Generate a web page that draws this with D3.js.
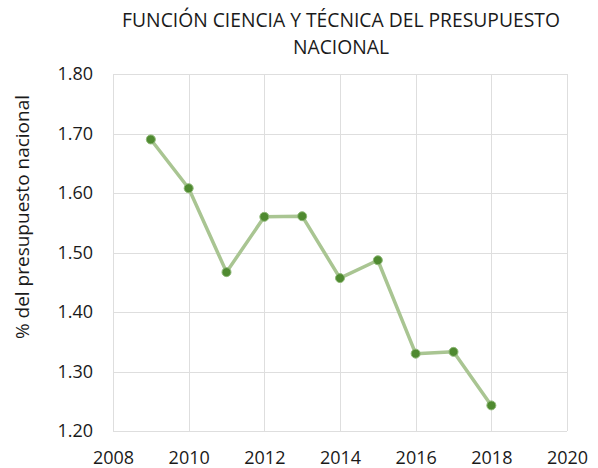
<!DOCTYPE html>
<html>
<head>
<meta charset="utf-8">
<script src="https://cdn.jsdelivr.net/npm/d3@7"></script>
<style>
  body { margin: 0; background: #fff; }
  text { font-family: "Open Sans", sans-serif; fill: #1a1a1a; }
</style>
</head>
<body>
<div id="chart"></div>
<script>
// data
let years = [2009, 2010, 2011, 2012, 2013, 2014, 2015, 2016, 2017, 2018]
let shares = [1.690, 1.608, 1.467, 1.560, 1.561, 1.457, 1.487, 1.330, 1.333, 1.243]
let xTicks = [2008, 2010, 2012, 2014, 2016, 2018, 2020]
let yTicks = [1.20, 1.30, 1.40, 1.50, 1.60, 1.70, 1.80]
let titleLines = ["FUNCIÓN CIENCIA Y TÉCNICA DEL PRESUPUESTO", "NACIONAL"]
let yLabel = "% del presupuesto nacional"

let width = 598,
    height = 468
let margin = { top: 74, right: 31, bottom: 37, left: 113 }

let svg = d3.select("#chart").append("svg")
    .attr("width", width)
    .attr("height", height)

let xScale = d3.scaleLinear()
    .domain([2008, 2020])
    .range([margin.left, width - margin.right])
let yScale = d3.scaleLinear()
    .domain([1.20, 1.80])
    .range([height - margin.bottom, margin.top])

// gridlines
svg.append("g")
    .selectAll("line.v")
    .data(xTicks)
    .enter()
    .append("line")
    .attr("x1", function(d) { return Math.round(xScale(d)) + 0.5; })
    .attr("x2", function(d) { return Math.round(xScale(d)) + 0.5; })
    .attr("y1", yScale(1.80))
    .attr("y2", yScale(1.20))
    .attr("stroke", "#dedede")
svg.append("g")
    .selectAll("line.h")
    .data(yTicks)
    .enter()
    .append("line")
    .attr("x1", xScale(2008))
    .attr("x2", xScale(2020))
    .attr("y1", function(d) { return Math.round(yScale(d)) + 0.5; })
    .attr("y2", function(d) { return Math.round(yScale(d)) + 0.5; })
    .attr("stroke", "#dedede")

// axes
let xAxis = svg.append("g")
    .attr("transform", "translate(0," + (height - margin.bottom) + ")")
    .call(d3.axisBottom(xScale).tickValues(xTicks).tickFormat(d3.format("d")).tickSize(0).tickPadding(20))
let yAxis = svg.append("g")
    .attr("transform", "translate(" + margin.left + ",0)")
    .call(d3.axisLeft(yScale).tickValues(yTicks).tickFormat(d3.format(".2f")).tickSize(0).tickPadding(20))
svg.selectAll(".domain").remove()
svg.selectAll(".tick text")
    .style("font-family", "'Open Sans', sans-serif")
    .style("font-size", "18px")
    .attr("fill", "#1a1a1a")

// line and markers
let line = d3.line()
    .x(function(d, i) { return xScale(years[i]); })
    .y(function(d) { return yScale(d); })
svg.append("path")
    .datum(shares)
    .attr("d", line)
    .attr("fill", "none")
    .attr("stroke", "#a9c592")
    .attr("stroke-width", 3.5)
    .attr("stroke-linejoin", "round")
svg.selectAll(".dot")
    .data(shares)
    .enter()
    .append("circle")
    .attr("class", "dot")
    .attr("cx", function(d, i) { return xScale(years[i]); })
    .attr("cy", function(d) { return yScale(d); })
    .attr("r", 4.5)
    .attr("fill", "#4f8a30")
    .attr("stroke", "#8fb878")
    .attr("stroke-width", 1)

// title
svg.append("text")
    .attr("x", 341)
    .attr("y", 27)
    .attr("text-anchor", "middle")
    .style("font-size", "19.3px")
    .selectAll("tspan")
    .data(titleLines)
    .enter()
    .append("tspan")
    .attr("x", 341)
    .attr("dy", function(d, i) { return i == 0 ? 0 : 26.5; })
    .text(function(d) { return d; })

// y axis label
svg.append("text")
    .attr("transform", "translate(29,217) rotate(-90)")
    .attr("text-anchor", "middle")
    .style("font-size", "19px")
    .text(yLabel)
</script>
</body>
</html>
